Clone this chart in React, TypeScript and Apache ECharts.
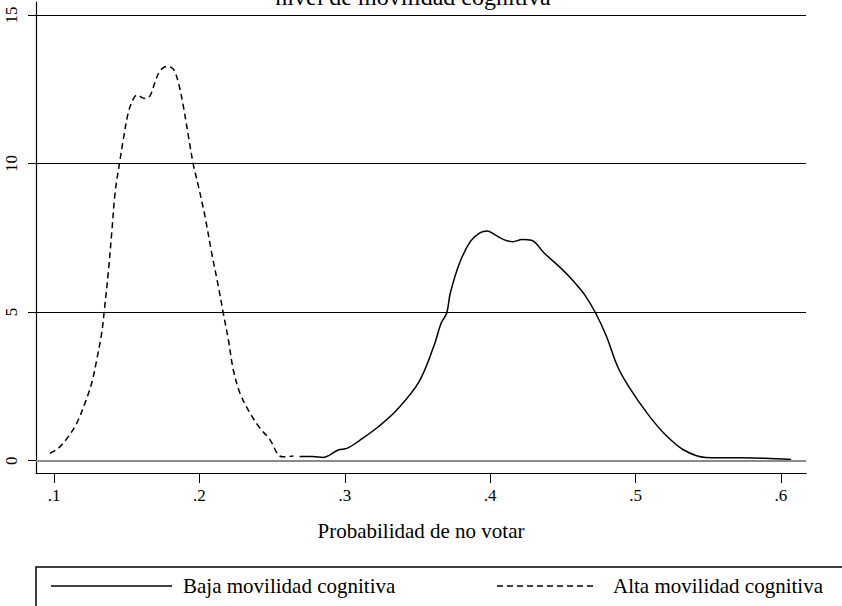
import { useEffect, useRef } from "react";
import * as echarts from "echarts";

const altaX = [0.0972, 0.103, 0.1098, 0.1156, 0.1213, 0.1259, 0.1294, 0.1328, 0.1344, 0.1373, 0.1397, 0.142, 0.1449, 0.1477, 0.1511, 0.1545, 0.1569, 0.1626, 0.166, 0.1694, 0.1729, 0.1775, 0.182, 0.1855, 0.1889, 0.1924, 0.1958, 0.1993, 0.2038, 0.2084, 0.213, 0.2164, 0.2199, 0.2233, 0.2279, 0.2348, 0.2417, 0.2486, 0.2543, 0.2577, 0.2646];
const altaY = [0.25, 0.42, 0.81, 1.26, 1.94, 2.61, 3.4, 4.3, 4.97, 6.32, 7.67, 9.02, 9.97, 10.82, 11.72, 12.17, 12.3, 12.19, 12.28, 12.73, 13.12, 13.27, 13.18, 12.73, 11.94, 10.93, 9.97, 9.24, 8.23, 7.0, 5.87, 4.97, 4.07, 3.06, 2.27, 1.6, 1.09, 0.7, 0.19, 0.13, 0.16];

const bajaX = [0.2689, 0.2778, 0.2853, 0.2955, 0.3018, 0.3107, 0.3233, 0.3359, 0.3511, 0.3612, 0.3663, 0.3701, 0.3726, 0.379, 0.3865, 0.3929, 0.3979, 0.403, 0.4093, 0.4156, 0.4219, 0.4283, 0.4371, 0.4497, 0.4573, 0.4649, 0.4725, 0.48, 0.4876, 0.4952, 0.5079, 0.5205, 0.5331, 0.5483, 0.5636, 0.5888, 0.607];
const bajaY = [0.14, 0.14, 0.11, 0.36, 0.42, 0.7, 1.15, 1.71, 2.66, 3.85, 4.63, 4.97, 5.65, 6.66, 7.39, 7.67, 7.73, 7.61, 7.44, 7.37, 7.44, 7.42, 6.99, 6.43, 6.04, 5.59, 4.97, 4.18, 3.17, 2.5, 1.6, 0.87, 0.36, 0.11, 0.1, 0.08, 0.04];

const xTicks = [0.1, 0.2, 0.3, 0.4, 0.5, 0.6];
const xTickLabels = [".1", ".2", ".3", ".4", ".5", ".6"];
const yTicks = [0, 5, 10, 15];
const yTickLabels = ["0", "5", "10", "15"];
const gridValues = [5, 10, 15];

const titleText = "nivel de movilidad cognitiva";
const xTitle = "Probabilidad de no votar";
const seriesNames = ["Baja movilidad cognitiva", "Alta movilidad cognitiva"];

const FONT = "'Liberation Serif', 'DejaVu Serif', serif";

export default function App() {
  const ref = useRef<HTMLDivElement>(null);
  useEffect(() => {
    if (!ref.current) return;
    const chart = echarts.init(ref.current, undefined, { renderer: "svg" });
    const pair = (xs: number[], ys: number[]) => xs.map((x, i) => [x, ys[i]]);
    const labelFor = (ticks: number[], labels: string[]) => (v: number) => {
      const i = ticks.findIndex((t) => Math.abs(t - v) < 1e-6);
      return i >= 0 ? labels[i] : "";
    };
    chart.setOption({
      animation: false,
      backgroundColor: "#fff",
      grid: { left: 36, right: 36, top: 2, bottom: 133 },
      xAxis: {
        type: "value",
        min: 0.0876,
        max: 0.6172,
        axisLine: { show: true, onZero: false, lineStyle: { color: "#000", width: 1.2 } },
        axisTick: { show: true, length: 10, customValues: xTicks, lineStyle: { color: "#000", width: 1 } },
        axisLabel: {
          customValues: xTicks,
          formatter: labelFor(xTicks, xTickLabels),
          margin: 14,
          color: "#000",
          fontFamily: FONT,
          fontSize: 17,
        },
        splitLine: { show: false },
        name: xTitle,
        nameLocation: "middle",
        nameGap: 47,
        nameTextStyle: { color: "#000", fontFamily: FONT, fontSize: 21 },
      },
      yAxis: {
        type: "value",
        min: -0.415,
        max: 15.437,
        axisLine: { show: true, onZero: false, lineStyle: { color: "#000", width: 1.2 } },
        axisTick: { show: true, length: 8, customValues: yTicks, lineStyle: { color: "#000", width: 1 } },
        axisLabel: {
          customValues: yTicks,
          formatter: labelFor(yTicks, yTickLabels),
          rotate: 90,
          margin: 16,
          color: "#000",
          fontFamily: FONT,
          fontSize: 17,
        },
        splitLine: { show: false },
      },
      series: [
        {
          name: seriesNames[0],
          type: "line",
          data: pair(bajaX, bajaY),
          showSymbol: false,
          symbol: "none",
          smooth: 0.35,
          lineStyle: { color: "#000", width: 1.5 },
          markLine: {
            silent: true,
            symbol: ["none", "none"],
            label: { show: false },
            data: [
              { yAxis: 0, lineStyle: { color: "#8a8a8a", width: 2, type: "solid" } },
              ...gridValues.map((v) => ({ yAxis: v, lineStyle: { color: "#000", width: 1, type: "solid" } })),
            ],
          },
          z: 3,
        },
        {
          name: seriesNames[1],
          type: "line",
          data: pair(altaX, altaY),
          showSymbol: false,
          symbol: "none",
          smooth: 0.35,
          lineStyle: { color: "#000", width: 1.5, type: [6, 4] },
          z: 3,
        },
      ],
      graphic: [
        {
          type: "text",
          x: 413,
          y: 9,
          style: { text: titleText, fontFamily: FONT, fontSize: 24, fill: "#000", align: "center", verticalAlign: "bottom" },
        },
        {
          type: "rect",
          shape: { x: 36, y: 567, width: 860, height: 100 },
          style: { fill: "none", stroke: "#000", lineWidth: 1.5 },
        },
        {
          type: "line",
          shape: { x1: 51, y1: 586, x2: 172, y2: 586 },
          style: { stroke: "#000", lineWidth: 1.5 },
        },
        {
          type: "text",
          x: 183,
          y: 586,
          style: { text: seriesNames[0], fontFamily: FONT, fontSize: 21, fill: "#000", align: "left", verticalAlign: "middle" },
        },
        {
          type: "line",
          shape: { x1: 497, y1: 586, x2: 595, y2: 586 },
          style: { stroke: "#000", lineWidth: 1.5, lineDash: [6, 4] },
        },
        {
          type: "text",
          x: 613,
          y: 586,
          style: { text: seriesNames[1], fontFamily: FONT, fontSize: 21, fill: "#000", align: "left", verticalAlign: "middle" },
        },
      ],
    });
    return () => chart.dispose();
  }, []);
  return <div ref={ref} style={{ position: "absolute", left: 0, top: 0, width: 842, height: 606 }} />;
}
